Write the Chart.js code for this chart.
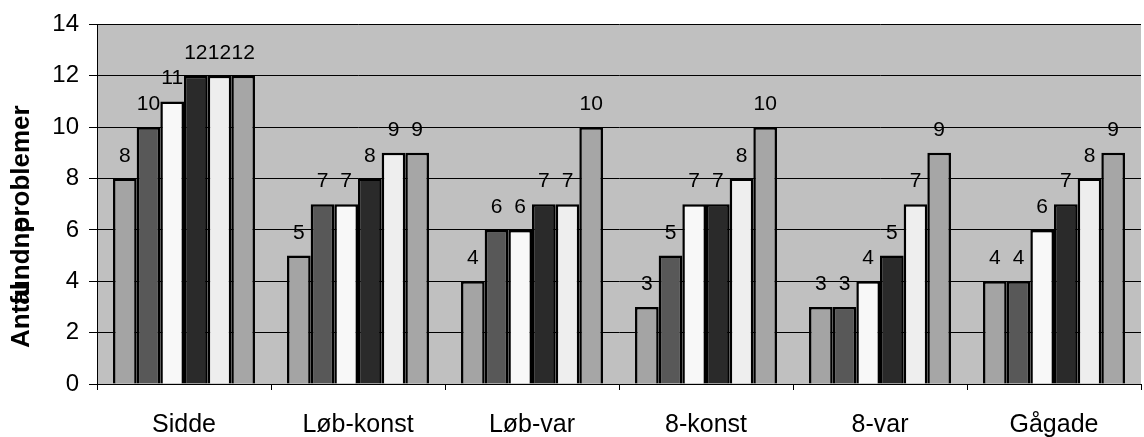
<!DOCTYPE html>
<html>
<head>
<meta charset="utf-8">
<script src="https://cdn.jsdelivr.net/npm/chart.js@4.4.0/dist/chart.umd.min.js"></script>
<style>
  html, body { margin: 0; padding: 0; background: #ffffff; }
  #wrap { width: 1144px; height: 437px; }
</style>
</head>
<body>
<div id="wrap"><canvas id="chart" width="1144" height="437"></canvas></div>
<script>
// data
const categories = ['Sidde', 'Løb-konst', 'Løb-var', '8-konst', '8-var', 'Gågade'];
const serie1 = [8, 5, 4, 3, 3, 4];
const serie2 = [10, 7, 6, 5, 3, 4];
const serie3 = [11, 7, 6, 7, 4, 6];
const serie4 = [12, 8, 7, 7, 5, 7];
const serie5 = [12, 9, 7, 8, 7, 8];
const serie6 = [12, 9, 10, 10, 9, 9];
const yTicks = [0, 2, 4, 6, 8, 10, 12, 14];
const titleParts = ['Antal', 'fundne', 'problemer'];

const FONT = '"Liberation Sans", Arial, sans-serif';
const colors = ['#a4a4a4', '#585858', '#f8f8f8', '#2a2a2a', '#eeeeee', '#a6a6a6'];

// grey plot area
const plotBg = {
  id: 'plotBg',
  beforeDraw(chart) {
    const a = chart.chartArea, ctx = chart.ctx;
    ctx.save();
    ctx.fillStyle = '#c0c0c0';
    ctx.fillRect(a.left, a.top, a.right - a.left, a.bottom - a.top);
    ctx.restore();
  }
};

// value labels over the bars
const barLabels = {
  id: 'barLabels',
  afterDatasetsDraw(chart) {
    const ctx = chart.ctx;
    ctx.save();
    ctx.font = '21px ' + FONT;
    ctx.fillStyle = '#000';
    ctx.textAlign = 'center';
    ctx.textBaseline = 'alphabetic';
    chart.data.datasets.forEach((ds, i) => {
      chart.getDatasetMeta(i).data.forEach((bar, j) => {
        ctx.fillText(String(ds.data[j]), bar.x, bar.y - 17);
      });
    });
    ctx.restore();
  }
};

// y title, drawn the same broken way as the original (words on top of each other)
const yTitle = {
  id: 'yTitle',
  afterDraw(chart) {
    const ctx = chart.ctx;
    ctx.save();
    ctx.font = 'bold 26px ' + FONT;
    ctx.fillStyle = '#000';
    ctx.textAlign = 'left';
    ctx.textBaseline = 'alphabetic';
    ctx.translate(29, 348);
    ctx.rotate(-Math.PI / 2);
    const off2 = ctx.measureText('Ant').width;
    const off3 = off2 + ctx.measureText('fundn').width;
    ctx.fillText(titleParts[0], 0, 0);
    ctx.fillText(titleParts[1], off2, 0);
    ctx.fillText(titleParts[2], off3, 0);
    ctx.restore();
  }
};

const series = [serie1, serie2, serie3, serie4, serie5, serie6];

const chart = new Chart(document.getElementById('chart'), {
  type: 'bar',
  data: {
    labels: categories,
    datasets: series.map((s, i) => ({
      label: 'Serie ' + (i + 1),
      data: s,
      backgroundColor: colors[i],
      borderColor: '#000',
      borderWidth: 2.5,
      borderSkipped: 'start',
      categoryPercentage: 0.816,
      barPercentage: 1.0
    }))
  },
  options: {
    responsive: false,
    animation: false,
    layout: { padding: { top: 19, right: 3, left: 0, bottom: 0 } },
    plugins: {
      legend: { display: false },
      tooltip: { enabled: false }
    },
    scales: {
      x: {
        grid: { display: true, drawOnChartArea: false, color: '#000', tickLength: 6, offset: true },
        border: { display: true, color: '#000', width: 1 },
        ticks: { color: '#000', font: { size: 25, family: FONT }, padding: 20, maxRotation: 0 },
        afterFit(scale) { scale.height = 53; }
      },
      y: {
        min: 0,
        max: 14,
        afterBuildTicks(scale) { scale.ticks = yTicks.map(v => ({ value: v })); },
        grid: { color: '#000', lineWidth: 1, tickLength: 8 },
        border: { display: true, color: '#000', width: 1 },
        ticks: { color: '#000', font: { size: 24, family: FONT }, padding: 10 },
        afterFit(scale) { scale.width = 97; }
      }
    }
  },
  plugins: [plotBg, barLabels, yTitle]
});

// pull the plot area to where it sits in the original (top 19, bottom 384)
const pad = chart.options.layout.padding;
pad.top += 19 - chart.chartArea.top;
pad.bottom += chart.chartArea.bottom - 384;
chart.update();
</script>
</body>
</html>
